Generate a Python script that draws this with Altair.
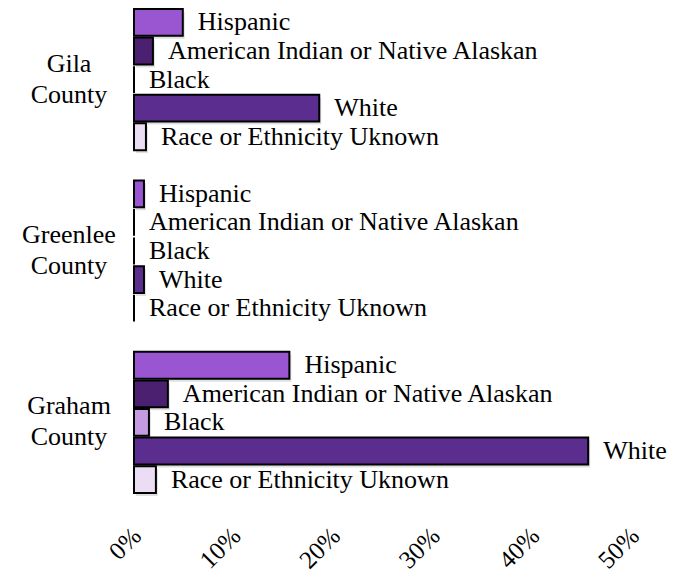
import altair as alt
import pandas as pd

counties = ["Gila County", "Greenlee County", "Graham County"]
races = ["Hispanic", "American Indian or Native Alaskan", "Black", "White",
         "Race or Ethnicity Uknown"]
gila = [0.049, 0.019, 0.0, 0.186, 0.012]
greenlee = [0.010, 0.0, 0.0, 0.010, 0.0]
graham = [0.156, 0.034, 0.015, 0.456, 0.022]
tick_values = [0, 0.1, 0.2, 0.3, 0.4, 0.5]
race_colors = ["#9A55D1", "#4B2070", "#C49BE3", "#5B2D8E", "#EADDF4"]

series = [gila, greenlee, graham]
rows = []
for c, vals in zip(counties, series):
    for r, v in zip(races, vals):
        rows.append({"county": c, "race": r, "pct": v, "key": c + "|" + r})
df = pd.DataFrame(rows)

y_domain = []
for i, c in enumerate(counties):
    if i > 0:
        y_domain.append("gap%d" % i)
    y_domain += [c + "|" + r for r in races]

labels_df = pd.DataFrame({"county": counties,
                          "key": [c + "|" + races[2] for c in counties]})

FONT = "Liberation Serif"

y_enc = alt.Y("key:N", scale=alt.Scale(domain=y_domain, paddingInner=0.06,
                                       paddingOuter=0), axis=None)
x_enc = alt.X("pct:Q", scale=alt.Scale(domain=[0, 0.5]), title=None,
              axis=alt.Axis(values=tick_values, format="%", labelAngle=-45,
                            labelAlign="right", labelBaseline="top",
                            labelFont=FONT, labelFontSize=25, labelColor="black",
                            labelPadding=30, labelOffset=-6, ticks=False,
                            tickSize=0, domain=False, grid=False))

shadow = alt.Chart(df).mark_bar(color="black", opacity=0.12, xOffset=2,
                                yOffset=3).encode(x=x_enc, y=y_enc)

bars = alt.Chart(df).mark_bar(stroke="black", strokeWidth=2).encode(
    x=x_enc, y=y_enc,
    color=alt.Color("race:N", scale=alt.Scale(domain=races, range=race_colors),
                    legend=None),
)

texts = alt.Chart(df).mark_text(align="left", baseline="middle", dx=15, dy=0,
                                font=FONT, fontSize=26, color="black").encode(
    x="pct:Q", y=alt.Y("key:N"), text="race:N"
)

county_text = alt.Chart(labels_df).mark_text(
    align="center", baseline="middle", font=FONT, fontSize=26, color="black",
    lineBreak=" ", lineHeight=31, dy=-16
).encode(x=alt.value(-65), y=alt.Y("key:N"), text="county:N")

chart = alt.layer(shadow, bars, texts, county_text).properties(
    width=498, height=484,
    padding={"left": 126, "top": 1, "right": 35, "bottom": 80},
    autosize=alt.AutoSizeParams(type="none"),
).configure_view(stroke=None)

chart.save("out.html", embed_options={"renderer": "svg", "actions": False})
